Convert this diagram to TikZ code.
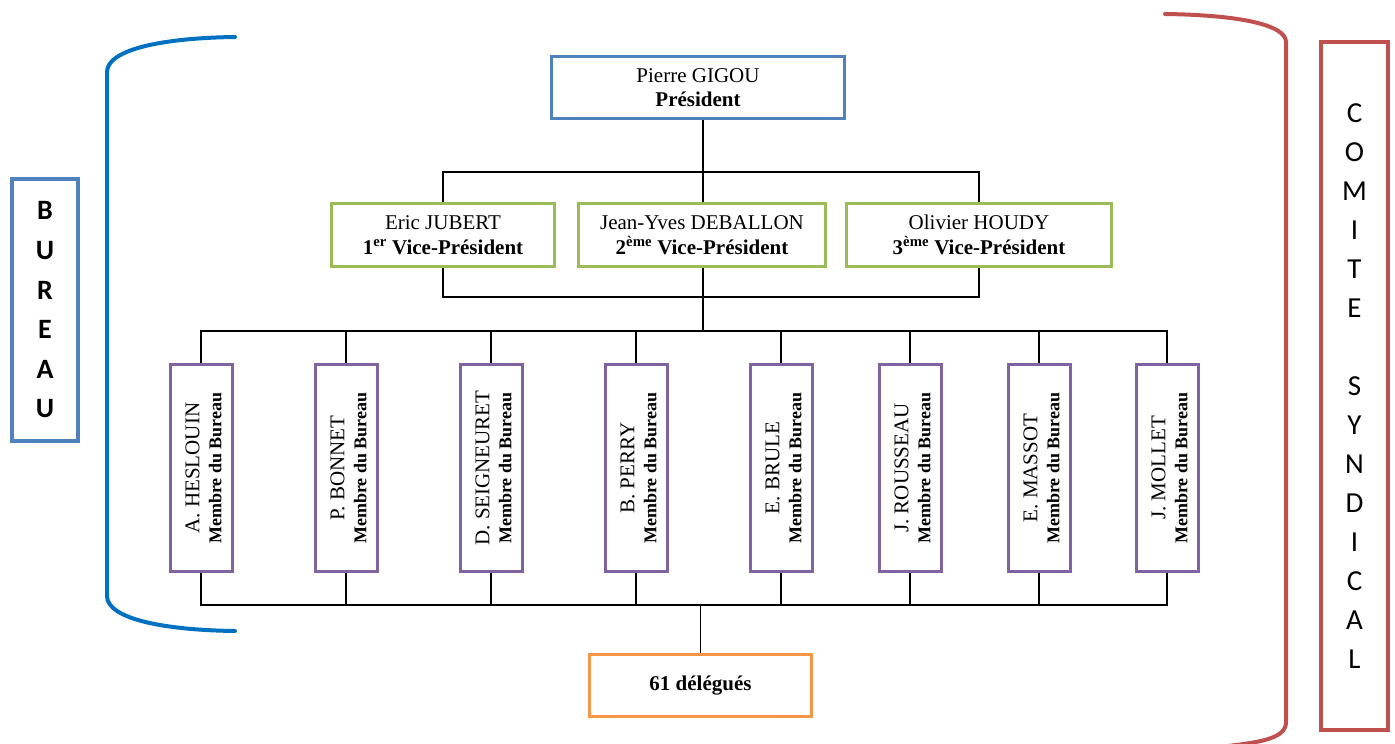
\documentclass[tikz,border=0pt]{standalone}
\usepackage{fontspec}
\setmainfont{Liberation Serif}
\newfontfamily\carl{Carlito}
\definecolor{presblue}{RGB}{79,129,189}
\definecolor{vpgreen}{RGB}{155,187,89}
\definecolor{mempurple}{RGB}{128,100,162}
\definecolor{delorange}{RGB}{247,150,70}
\definecolor{brblue}{RGB}{0,112,192}
\definecolor{brred}{RGB}{192,80,77}
\begin{document}
\begin{tikzpicture}[x=1pt,y=-1pt,
  conn/.style={line width=1.3pt,black},
  box/.style={draw,line width=3pt,fill=white,inner sep=0pt,align=center,
    font=\fontsize{21}{24.5}\selectfont},
  presbox/.style={box,draw=presblue,minimum width=293pt,minimum height=62pt},
  vpbox/.style={box,draw=vpgreen,minimum height=63pt},
  membox/.style={box,draw=mempurple,minimum width=62pt,minimum height=207pt},
  delbox/.style={box,draw=delorange,minimum width=222pt,minimum height=62pt},
  memtext/.style={rotate=90,align=center,inner sep=0pt,font=\fontsize{21}{22}\selectfont},
  sidebox/.style={draw,line width=4pt,fill=white,inner sep=0pt,align=center},
  bracket/.style={line width=4pt,line cap=round}]
\useasboundingbox (0,0) rectangle (1395,744);

% brackets
\draw[bracket,brblue] (235,37) .. controls (160,38) and (107,50) .. (107,72)
  -- (107,596) .. controls (107,618) and (160,630) .. (235,631);
\draw[bracket,brred] (1165,14) .. controls (1240,15) and (1286,25) .. (1286,42)
  -- (1286,722) .. controls (1286,738) and (1262,742) .. (1228,746);

% side boxes
\node[sidebox,draw=presblue,minimum width=66pt,minimum height=262pt,
  font=\carl\bfseries\fontsize{28}{39.6}\selectfont] (bureau) at (45,310)
  {B\\U\\R\\E\\A\\U};
\node[sidebox,draw=brred,minimum width=67pt,minimum height=688pt,
  font=\carl\fontsize{29}{39}\selectfont] (comite) at (1354.5,386)
  {C\\O\\M\\I\\T\\E\\\mbox{}\\S\\Y\\N\\D\\I\\C\\A\\L};

% president and vice-presidents
\node[presbox] (pres) at (698,87.5) {Pierre GIGOU\\\textbf{Président}};
\node[vpbox,minimum width=223pt] (vp1) at (443,235)
  {Eric JUBERT\\\textbf{1\textsuperscript{er} Vice-Président}};
\node[vpbox,minimum width=247pt] (vp2) at (702,235)
  {Jean-Yves DEBALLON\\\textbf{2\textsuperscript{ème} Vice-Président}};
\node[vpbox,minimum width=265pt] (vp3) at (979,235)
  {Olivier HOUDY\\\textbf{3\textsuperscript{ème} Vice-Président}};

% members
\foreach \x/\n/\nm in {201/1/A. HESLOUIN,346/2/P. BONNET,491/3/D. SEIGNEURET,
  636/4/B. PERRY,781/5/E. BRULE,910/6/J. ROUSSEAU,1039/7/E. MASSOT,1167/8/J. MOLLET}{
  \node[membox] (m\n) at (\x,468) {};
  \node[memtext] (t\n) at ([xshift=2.5pt]m\n.center)
    {\nm\\{\fontsize{18}{22}\selectfont\bfseries Membre du Bureau}};
}

% delegates
\node[delbox] (del) at (700.5,685.5) {\textbf{61 délégués}};

% connectors
\coordinate (s1) at (703,172);
\coordinate (s2) at (703,297);
\coordinate (s3) at (703,331);
\coordinate (s4) at (700.5,605);
\draw[conn] (pres.south -| s1) -- (s1);
\draw[conn] (vp1.north) |- (s1) -| (vp3.north);
\draw[conn] (s1) -- (vp2.north -| s1);
\draw[conn] (vp1.south) |- (s2) -| (vp3.south);
\draw[conn] (vp2.south -| s2) -- (s3);
\draw[conn] (m1.north) |- (s3) -| (m8.north);
\draw[conn] (m1.south) |- (s4) -| (m8.south);
\foreach \n in {2,...,7}{
  \draw[conn] (m\n.north) -- (m\n.north |- s3);
  \draw[conn] (m\n.south) -- (m\n.south |- s4);
}
\draw[conn] (s4) -- (del.north);
\end{tikzpicture}
\end{document}
